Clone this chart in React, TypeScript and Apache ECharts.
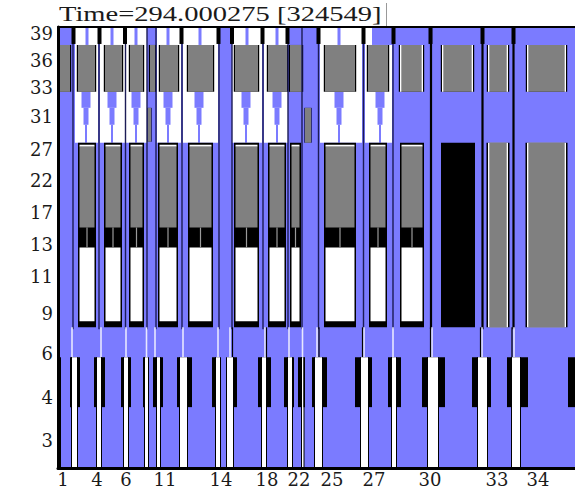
import React, { useEffect, useRef } from 'react';
import * as echarts from 'echarts';

// ---- axis ticks (axis units) ----
const X_TICK_POS = [63, 97, 126, 165, 221, 267, 299, 332, 374, 430, 497, 538];
const X_TICK_LABELS = ['1', '4', '6', '11', '14', '18', '22', '25', '27', '30', '33', '34'];
const Y_TICK_POS = [34, 61, 88, 117, 150, 181, 213, 245, 277, 314, 354, 398, 441];
const Y_TICK_LABELS = ['39', '36', '33', '31', '27', '22', '17', '13', '11', '9', '6', '4', '3'];

const X_MIN = 58;
const X_MAX = 575;
const Y_MIN = 27;
const Y_MAX = 469;

// ---- row bands (axis units) ----
const TOP_BAND = [27, 45];
const GRAY_BAND = [45, 92];
const TAPER_BAND = [92, 143];
const BOX_BAND = [143, 328];
const BOX_GRAY_END = 228;
const BOX_BLACK_END = 248;
const BOX_WHITE_END = 322;
const STEM_BAND = [328, 358];
const KEY_BAND = [358, 469];
const BLACK_KEY_END = 408;

// ---- column data (axis units) ----
const whiteCols = [[75, 98], [100, 125], [126, 147], [157, 181], [183, 218], [232, 262], [264, 288], [320, 362], [365, 392]];
const topBlueSpans = [[372, 392]];
const topLineCenters = [87, 112, 136, 168, 200, 247, 277, 339];
const taperCenters = [86, 112, 136, 168, 199, 246, 277, 339, 380];
const taperSteps = [[92, 108, 9], [108, 125, 5], [125, 143, 2]];
const graySlivers = [[148, 151, 108, 142], [305, 311, 108, 143]];
const grayBlocksLeft = [[59, 70], [78, 95], [105, 122], [130, 143], [150, 155], [160, 178], [188, 213], [235, 258], [268, 287], [290, 302], [325, 355], [368, 388]];
const grayBlocksRight = [[400, 423], [442, 473], [488, 508], [527, 566]];
const navySeparators = [73, 99, 125.5, 147, 156, 182, 219, 232, 263, 288, 302, 318.5, 363.5, 393];
const blackSeparators = [431, 482.5, 513.5];
const topBlacks = [73.5, 99.5, 125, 181.5, 218.5, 232, 262.5, 287.5, 318.5, 363.5, 393.5, 430.5, 482.5, 513.5];
const keyBoxes = [[78, 96], [104, 122], [129, 144], [158, 178], [188, 213], [234, 259], [268, 286], [290, 301], [324, 356], [369, 387], [400, 424]];
const solidBoxes = [[441, 475]];
const grayBoxes = [[488, 508], [527, 566]];
// [left black start, white start, white end, right black end]
const pianoKeys = [
  [70, 72, 77, 80], [94, 97, 101, 105], [121, 124, 128, 131], [143, 145, 148, 148],
  [153, 157, 160, 163], [177, 180, 187, 192], [212, 216, 220, 220], [227, 227, 233, 237],
  [258, 262, 266, 271], [284, 288, 292, 294], [298, 302, 303.5, 305], [312, 315, 322, 327],
  [355, 361, 368, 372], [388, 392, 396, 401], [422, 428, 438, 445], [472, 478, 487, 491],
  [507, 512, 520, 528], [568, 575, 575, 575],
];
const lightStems = [72, 101, 126, 146.5, 155, 183, 218, 230, 265, 289, 302.5, 317, 364, 393, 432, 482, 514];
const darkStems = [232.5, 266.5, 319, 362.5, 430.5, 480.5, 512];

const BLUE = '#7b7bff';
const GRAY = '#808080';
const WHITE = '#ffffff';
const BLACK = '#000000';
const NAVY = '#1c1c55';
const LIGHT = '#e8e8ff';

function rectSeries(name: string, rects: number[][], color: string) {
  return {
    type: 'custom',
    name,
    data: rects,
    clip: true,
    silent: true,
    encode: { x: [0, 1], y: [2, 3] },
    renderItem: (_p: any, api: any) => {
      const a = api.coord([api.value(0), api.value(2)]);
      const b = api.coord([api.value(1), api.value(3)]);
      return {
        type: 'rect',
        shape: {
          x: Math.min(a[0], b[0]),
          y: Math.min(a[1], b[1]),
          width: Math.abs(b[0] - a[0]),
          height: Math.abs(b[1] - a[1]),
        },
        style: { fill: color },
      };
    },
  };
}

function buildSeries() {
  const s: any[] = [];
  s.push(rectSeries('background', [[X_MIN, X_MAX, Y_MIN, Y_MAX]], BLUE));
  s.push(rectSeries('whiteCols', whiteCols.map(([a, b]) => [a, b, TOP_BAND[0], TAPER_BAND[1]]), WHITE));
  s.push(rectSeries('topBlue', topBlueSpans.map(([a, b]) => [a, b, TOP_BAND[0], TOP_BAND[1]]), BLUE));
  s.push(rectSeries('topLines', topLineCenters.map((c) => [c - 1.5, c + 1.5, TOP_BAND[0], TOP_BAND[1]]), BLUE));
  const taper: number[][] = [];
  taperCenters.forEach((c) => taperSteps.forEach(([y0, y1, w]) => taper.push([c - w / 2, c + w / 2, y0, y1])));
  s.push(rectSeries('taper', taper, BLUE));
  s.push(rectSeries('sliversOutline', graySlivers.map(([a, b, y0, y1]) => [a - 0.8, b + 0.8, y0, y1]), NAVY));
  s.push(rectSeries('slivers', graySlivers, GRAY));
  const allGray = grayBlocksLeft.concat(grayBlocksRight);
  s.push(rectSeries('grayOutline', allGray.map(([a, b]) => [a - 1.2, b + 1.2, GRAY_BAND[0], GRAY_BAND[1]]), BLACK));
  s.push(rectSeries('grayBlocks', allGray.map(([a, b]) => [a, b, GRAY_BAND[0], GRAY_BAND[1]]), GRAY));
  const edges: number[][] = [];
  grayBlocksRight.forEach(([a, b]) => {
    edges.push([a, a + 1.3, GRAY_BAND[0], GRAY_BAND[1]]);
    edges.push([b - 1.3, b, GRAY_BAND[0], GRAY_BAND[1]]);
  });
  s.push(rectSeries('grayEdges', edges, WHITE));
  s.push(rectSeries('navySep', navySeparators.map((x) => [x - 0.7, x + 0.7, TOP_BAND[0], STEM_BAND[0] + 2]), NAVY));
  s.push(rectSeries('blackSep', blackSeparators.map((x) => [x - 1.1, x + 1.1, TOP_BAND[0], STEM_BAND[0] + 2]), BLACK));
  s.push(rectSeries('topBlacks', topBlacks.map((x) => [x - 2, x + 2, TOP_BAND[0], TOP_BAND[1] - 1]), BLACK));
  // outlined boxes
  s.push(rectSeries('boxOuter', keyBoxes.concat(solidBoxes).map(([a, b]) => [a, b, BOX_BAND[0], BOX_BAND[1]]), BLACK));
  s.push(rectSeries('boxTopLine', keyBoxes.map(([a, b]) => [a + 1.5, b - 1.5, BOX_BAND[0] + 2, BOX_BAND[0] + 4]), WHITE));
  s.push(rectSeries('boxGray', keyBoxes.map(([a, b]) => [a + 1.5, b - 1.5, BOX_BAND[0] + 4, BOX_GRAY_END]), GRAY));
  s.push(rectSeries('boxWhite', keyBoxes.map(([a, b]) => [a + 1.5, b - 1.5, BOX_BLACK_END, BOX_WHITE_END]), WHITE));
  s.push(rectSeries('boxMid', keyBoxes.map(([a, b]) => [(a + b) / 2 - 0.6, (a + b) / 2 + 0.6, BOX_GRAY_END, BOX_BLACK_END]), '#9a9a9a'));
  s.push(rectSeries('grayBoxOuter', grayBoxes.map(([a, b]) => [a - 1.5, b + 1.5, BOX_BAND[0], BOX_BAND[1]]), BLACK));
  s.push(rectSeries('grayBoxEdge', grayBoxes.map(([a, b]) => [a, b, BOX_BAND[0], BOX_BAND[1]]), WHITE));
  s.push(rectSeries('grayBoxFill', grayBoxes.map(([a, b]) => [a + 1.3, b - 1.3, BOX_BAND[0], BOX_BAND[1]]), GRAY));
  // stems
  s.push(rectSeries('lightStems', lightStems.map((x) => [x - 0.8, x + 0.8, STEM_BAND[0], STEM_BAND[1]]), LIGHT));
  s.push(rectSeries('darkStems', darkStems.map((x) => [x - 0.6, x + 0.6, STEM_BAND[0], STEM_BAND[1]]), BLACK));
  // piano keys
  const withWhite = pianoKeys.filter((k) => k[2] > k[1]);
  s.push(rectSeries('keyOutline', withWhite.map((k) => [k[1] - 1, k[2] + 1, KEY_BAND[0], KEY_BAND[1]]), BLACK));
  s.push(rectSeries('keyWhite', withWhite.map((k) => [k[1], k[2], KEY_BAND[0], KEY_BAND[1]]), WHITE));
  const bars: number[][] = [];
  pianoKeys.forEach(([bl, w0, w1, br]) => {
    if (w0 > bl) bars.push([bl, w0, KEY_BAND[0], BLACK_KEY_END]);
    if (br > w1) bars.push([w1, br, KEY_BAND[0], BLACK_KEY_END]);
  });
  s.push(rectSeries('blackKeys', bars, BLACK));
  s.push(rectSeries('leftEdge', [[X_MIN, X_MIN + 3, KEY_BAND[0], KEY_BAND[1]]], BLACK));
  return s;
}

const labelFont = { fontFamily: 'DejaVu Serif', fontSize: 18, color: '#1a1a1a' };

export default function App() {
  const ref = useRef<HTMLDivElement>(null);
  useEffect(() => {
    document.body.style.margin = '0';
    const chart = echarts.init(ref.current!, null, { renderer: 'svg' });
    chart.setOption({
      animation: false,
      backgroundColor: '#ffffff',
      grid: { left: X_MIN, right: 0, top: Y_MIN, bottom: 488 - Y_MAX },
      xAxis: [
        {
          type: 'value', min: X_MIN, max: X_MAX, position: 'bottom', z: 10,
          axisLine: { show: true, onZero: false, lineStyle: { color: '#000', width: 3 } },
          axisTick: { show: false },
          splitLine: { show: false },
          axisLabel: {
            ...labelFont, margin: 2,
            customValues: X_TICK_POS,
            formatter: (v: number) => X_TICK_LABELS[X_TICK_POS.indexOf(v)] ?? '',
          },
        },
        {
          type: 'value', min: X_MIN, max: X_MAX, position: 'top', z: 10,
          axisLine: { show: true, onZero: false, lineStyle: { color: '#000', width: 2 } },
          axisTick: { show: false }, splitLine: { show: false }, axisLabel: { show: false },
        },
      ],
      yAxis: {
        type: 'value', min: Y_MIN, max: Y_MAX, inverse: true, z: 10,
        axisLine: { show: true, onZero: false, lineStyle: { color: '#000', width: 3 } },
        axisTick: { show: false },
        splitLine: { show: false },
        axisLabel: {
          ...labelFont, margin: 5,
          customValues: Y_TICK_POS,
          formatter: (v: number) => Y_TICK_LABELS[Y_TICK_POS.indexOf(v)] ?? '',
        },
      },
      graphic: [
        {
          type: 'text', x: 59, y: 3, scaleX: 1.36, z: 100,
          style: { text: 'Time=294.000275 [324549]', font: '21px "Liberation Serif"', fill: '#1a1a1a', verticalAlign: 'top' },
        },
        {
          type: 'line', z: 100,
          shape: { x1: 386.5, y1: 3, x2: 386.5, y2: 26 },
          style: { stroke: '#999', lineWidth: 1 },
        },
      ],
      series: buildSeries(),
    });
    return () => chart.dispose();
  }, []);
  return <div ref={ref} style={{ width: 575, height: 488 }} />;
}
